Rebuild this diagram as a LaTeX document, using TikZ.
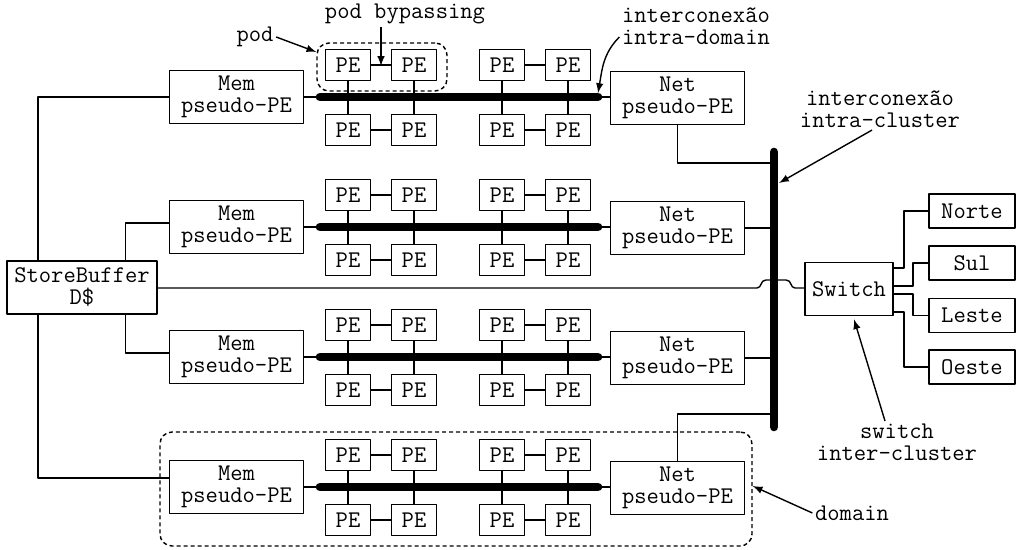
\documentclass[tikz,border=0pt]{standalone}
\usepackage{fontspec}
\usetikzlibrary{arrows.meta}
\begin{document}
\begin{tikzpicture}[x=0.5bp,y=-0.5bp,>=latex,line join=bevel,line width=0.7bp,
    font={\ttfamily\fontsize{12}{11}\selectfont},
    box/.style={draw,rectangle,line width=0.8bp,inner sep=0pt,align=center},
    pe/.style={box,minimum width=22.5bp,minimum height=15.5bp},
    pseudo/.style={box,minimum width=67bp,minimum height=26.5bp},
    dirbox/.style={box,minimum width=43bp,minimum height=17bp},
    bus/.style={line width=4.3bp,line cap=round},
    grp/.style={draw,dash pattern=on 2bp off 1.5bp,rounded corners=6bp,inner sep=0pt},
    lbl/.style={inner sep=1bp,align=center}]
    \useasboundingbox (0,0) rectangle (1016,550);
    %%
    \node (dom) at (456,489) [grp,minimum width=296bp,minimum height=57bp] {};
    \node (pod) at (382,67) [grp,minimum width=65bp,minimum height=24bp] {};
    %% domains
    \foreach \r/\y in {1/97,2/227,3/357,4/487} {
        \node (mem\r) at (236.5,\y) [pseudo] {Mem\\pseudo-PE};
        \node (net\r) at (677.5,\y+1) [pseudo] {Net\\pseudo-PE};
        \coordinate (bs\r) at (320,\y);
        \coordinate (be\r) at (598,\y);
        \foreach \c/\x in {a/348,b/414,c/502,d/568} {
            \node (up\r\c) at (\x,\y-32) [pe] {PE};
            \node (dn\r\c) at (\x,\y+33) [pe] {PE};
            \draw [] (up\r\c) -- (dn\r\c);
        }
        \draw [bus] (bs\r) -- (be\r);
        \draw [] (mem\r) -- (bs\r);
        \draw [] (net\r.west |- be\r) -- (be\r);
        \draw [] (up\r a) -- (up\r b);
        \draw [] (up\r c) -- (up\r d);
        \draw [] (dn\r a) -- (dn\r b);
        \draw [] (dn\r c) -- (dn\r d);
    }
    %% store buffer
    \node (sb) at (82,287.5) [box,minimum width=75bp,minimum height=26.5bp] {StoreBuffer\\D\$};
    \draw [] ([xshift=16bp]sb.north west) |- (mem1);
    \draw [] ([xshift=59.5bp]sb.north west) |- ([yshift=2bp]mem2.west);
    \draw [] ([xshift=59.5bp]sb.south west) |- ([yshift=2bp]mem3.west);
    \draw [] ([xshift=16bp]sb.south west) |- ([yshift=4.5bp]mem4.west);
    %% intra-cluster
    \coordinate (ct) at (774,152);
    \coordinate (cb) at (774,427);
    \draw [bus] (ct) -- (cb);
    \draw [] (net1.south) |- ([yshift=-5.5bp]ct);
    \draw [] (net2) -- (net2 -| ct);
    \draw [] (net3) -- (net3 -| ct);
    \draw [] (net4.north) |- ([yshift=6.5bp]cb);
    %% switch
    \node (sw) at (849,289) [box,minimum width=44bp,minimum height=26.5bp] {Switch};
    \node (norte) at (972,211) [dirbox] {Norte};
    \node (sul) at (972,263) [dirbox] {Sul};
    \node (leste) at (972,315.5) [dirbox] {Leste};
    \node (oeste) at (972,367) [dirbox] {Oeste};
    \coordinate (hopa) at (757,288);
    \coordinate (hopb) at (795,288);
    \draw [] (sb.east |- hopa) -- (hopa) ..controls (762,288) and (760,280) .. (766,280)
        -- (786,280) ..controls (792,280) and (790,288) .. (hopb) -- (sw.west |- hopb);
    \draw [] ([yshift=10.5bp]sw.east) -- ++(5bp,0) |- (norte);
    \draw [] ([yshift=1.5bp]sw.east) -- ++(9.5bp,0) |- (sul);
    \draw [] ([yshift=-2.5bp]sw.east) -- ++(9.5bp,0) |- (leste);
    \draw [] ([yshift=-11.5bp]sw.east) -- ++(5bp,0) |- (oeste);
    %% labels
    \node (podlbl) at (255,37) [lbl] {pod};
    \draw [->] (podlbl.east) -- ([yshift=7.5bp]pod.west);
    \node (byplbl) at (405,14) [lbl] {pod bypassing};
    \coordinate (bypt) at (381,66);
    \draw [->] (bypt |- byplbl.south) -- (bypt);
    \node (idlbl) at (696,26) [lbl,align=left] {interconexão\\intra-domain};
    \draw [->] ([yshift=-5.5bp]idlbl.west) to[out=225,in=80] ([yshift=2bp]be1);
    \node (iclbl) at (880,109) [lbl] {interconexão\\intra-cluster};
    \draw [->] ([xshift=-4bp]iclbl.south) -- ([xshift=2.5bp,yshift=-15.5bp]ct);
    \node (sclbl) at (897,442) [lbl] {switch\\inter-cluster};
    \draw [->] ([xshift=-6bp]sclbl.north) -- ([xshift=2.5bp,yshift=-1.5bp]sw.south);
    \node (domlbl) at (852,513) [lbl] {domain};
    \draw [->] (domlbl.west) -- ([yshift=1.5bp]dom.east);
    %
\end{tikzpicture}
\end{document}
